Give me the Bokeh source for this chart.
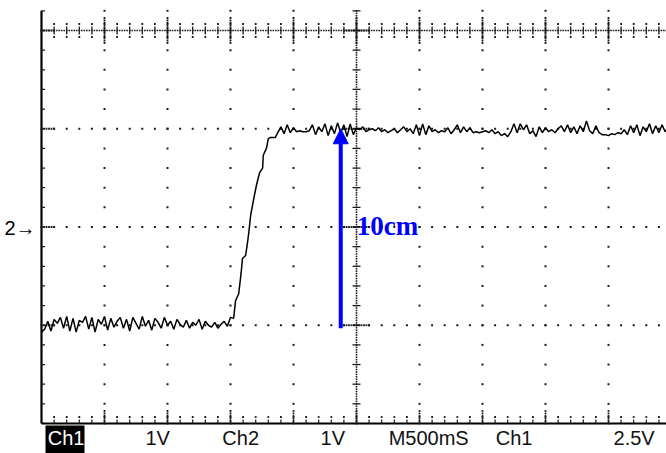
import numpy as np
from bokeh.plotting import figure
from bokeh.models import Range1d, Arrow, NormalHead
from bokeh.core.properties import value
from bokeh.embed import file_html
from bokeh.resources import INLINE

# ---------------- data (screen divisions) ----------------
sample_dt = 0.05
low_t0 = 0.0
low_vals = [0.93, 0.96, 1.04, 0.94, 1.06, 1.02, 1.08, 0.97, 1.09, 0.94,
            1.07, 0.93, 1.05, 1.03, 1.09, 0.96, 1.08, 0.93, 1.06, 1.01,
            1.09, 0.95, 1.07, 0.98, 1.04, 1.08, 0.97, 1.06, 0.94, 1.08,
            1.02, 0.96, 1.09, 0.99, 1.05, 0.95, 1.07, 1.03, 0.97, 1.08,
            1.00, 1.04, 0.96, 1.06, 1.01, 0.98, 1.05, 0.97, 1.03, 1.00,
            1.06, 0.96, 1.04, 1.00, 0.98, 1.03, 0.97, 1.01, 1.04, 0.99,
            1.08]
rise_t = [3.05, 3.08, 3.13, 3.17, 3.19, 3.24, 3.27, 3.29, 3.32, 3.37,
          3.41, 3.46, 3.51, 3.52, 3.57, 3.60, 3.63, 3.71, 3.75]
rise_vals = [1.07, 1.25, 1.32, 1.54, 1.68, 1.71, 1.84, 1.94, 2.12, 2.29,
             2.42, 2.55, 2.60, 2.73, 2.80, 2.90, 2.91, 2.91, 2.96]
high_t0 = 3.80
high_vals = [3.02, 2.95, 3.04, 2.96, 3.01, 2.97, 2.98, 2.97, 2.97, 2.98,
             3.04, 2.94, 3.02, 2.97, 3.05, 2.93, 3.03, 2.95, 3.06, 2.96,
             3.04, 2.92, 3.05, 2.94, 3.01, 2.99, 3.02, 2.97, 2.99, 3.00,
             2.98, 3.01, 2.97, 2.99, 2.96, 2.98, 3.00, 2.96, 2.99, 3.02,
             2.97, 3.00, 2.95, 3.04, 2.93, 3.05, 2.94, 3.03, 2.97, 2.99,
             2.96, 2.98, 2.97, 3.01, 2.95, 2.99, 3.04, 2.96, 3.02, 2.97,
             3.01, 2.96, 2.97, 2.96, 2.97, 2.98, 2.96, 2.99, 2.95, 2.97,
             2.93, 2.95, 2.92, 2.97, 3.05, 2.96, 3.05, 2.99, 3.04, 2.95,
             2.98, 2.92, 3.02, 2.96, 3.01, 2.97, 2.99, 2.96, 3.00, 3.03,
             2.97, 3.04, 2.96, 3.02, 2.95, 3.03, 2.97, 3.08, 2.98, 2.95,
             3.03, 2.96, 2.94, 2.94, 2.93, 2.95, 2.94, 2.96, 2.95, 2.99,
             2.94, 3.03, 2.96, 3.04, 2.93, 3.02, 2.97, 3.05, 2.95, 3.03,
             2.96, 3.04, 2.97, 3.02]
level_low = 1.0
level_high = 3.0
arrow_text = "10cm"
channel_marker = "2→"
channel_level = 2.0
status_labels = ["Ch1", "1V", "Ch2", "1V", "M500mS", "Ch1", "2.5V"]

# ---------------- layout / style ----------------
status_x = [0.10, 1.65, 2.87, 4.43, 5.51, 7.21, 9.08]
status_colors = ["white", "#111111", "#111111", "#111111", "#111111", "#111111", "#111111"]
arrow_x = 4.75
N_X, N_Y_TOP = 10, 4.2
GRID = "#1a1a1a"
PX_X, PX_Y = 1 / 63.0, 1 / 98.25   # one pixel in divisions
X0_PX, Y0_PX = 41, 423             # pixel position of the screen origin

W, H = 666, 453
p = figure(width=W, height=H, output_backend="svg", toolbar_location=None,
           x_range=Range1d(-X0_PX * PX_X, (W - X0_PX) * PX_X),
           y_range=Range1d(-(H - Y0_PX) * PX_Y, Y0_PX * PX_Y),
           min_border=0)
p.axis.visible = False
p.grid.visible = False
p.outline_line_color = None
p.background_fill_color = "white"
p.border_fill_color = "white"

def dots(xs, ys, size=2.0):
    p.scatter(x=list(xs), y=list(ys), marker="square", size=size,
              fill_color=GRID, line_color=None)

minor_x = np.round(np.arange(0.2, N_X + 1e-9, 0.2), 3)
minor_y = np.round(np.arange(0.2, N_Y_TOP + 1e-9, 0.2), 3)
major_x = [i for i in range(1, N_X)]
major_y = [1, 2, 3, 4]
center_x = 5
dense_y = 4

# vertical dotted lines
for mx in major_x:
    if mx == center_x:
        continue
    dots([mx] * len(minor_y), minor_y)
# horizontal dotted lines
for my in [1, 2, 3]:
    dots(minor_x, [my] * len(minor_x))
# dense horizontal line at y=4
dense_x = np.round(np.arange(0, N_X + 1e-9, 0.04), 3)
dots(dense_x, [dense_y] * len(dense_x), size=1.6)
p.segment(x0=list(minor_x), y0=[dense_y - 4 * PX_Y] * len(minor_x),
          x1=list(minor_x), y1=[dense_y + 4 * PX_Y] * len(minor_x),
          line_color=GRID, line_width=1.3)
dots(minor_x, [dense_y - 6.5 * PX_Y] * len(minor_x), size=1.8)
dots(minor_x, [dense_y + 6.5 * PX_Y] * len(minor_x), size=1.8)
ext = np.arange(-12.5, 12.6, 2.5) * PX_Y
for mx in major_x:
    dots([mx] * len(ext), dense_y + ext, size=1.8)
# dense center vertical
dense_yy = np.round(np.arange(0, N_Y_TOP + 1e-9, 0.025), 4)
dots([center_x] * len(dense_yy), dense_yy, size=1.6)
p.segment(x0=[center_x - 4 * PX_X] * len(minor_y), y0=list(minor_y),
          x1=[center_x + 4 * PX_X] * len(minor_y), y1=list(minor_y),
          line_color=GRID, line_width=1.3)
extx = np.arange(-12.5, 12.6, 2.5) * PX_X
for my in major_y:
    dots(center_x + extx, [my] * len(extx), size=1.8)

# left axis
p.segment(x0=[0], y0=[0], x1=[0], y1=[N_Y_TOP], line_color="black", line_width=2.2)
p.segment(x0=[0] * len(minor_y), y0=list(minor_y), x1=[3.5 * PX_X] * len(minor_y),
          y1=list(minor_y), line_color=GRID, line_width=1.2)
tick_ext = np.arange(0, 12.6, 2.5) * PX_X
for my in major_y:
    dots(tick_ext, [my] * len(tick_ext), size=1.8)
# bottom axis
p.segment(x0=[0], y0=[0], x1=[N_X], y1=[0], line_color="black", line_width=2.2)
p.segment(x0=list(minor_x), y0=[0] * len(minor_x), x1=list(minor_x),
          y1=[4 * PX_Y] * len(minor_x), line_color=GRID, line_width=1.2)
dots(minor_x, [6.5 * PX_Y] * len(minor_x), size=1.8)
tick_exty = np.arange(0, 13.1, 2.5) * PX_Y
for mx in major_x:
    dots([mx] * len(tick_exty), tick_exty, size=1.8)

# signal trace
low_t = [low_t0 + i * sample_dt for i in range(len(low_vals))]
high_t = [high_t0 + i * sample_dt for i in range(len(high_vals))]
trace_t = low_t + rise_t + high_t
trace_v = low_vals + rise_vals + high_vals
p.line(x=trace_t, y=trace_v, line_color="black", line_width=1.5)

# measurement arrow
p.add_layout(Arrow(end=NormalHead(size=15, fill_color="#0000ff", line_color="#0000ff"),
                   x_start=arrow_x, y_start=level_low - 3 * PX_Y,
                   x_end=arrow_x, y_end=level_high,
                   line_color="#0000ff", line_width=4))
p.text(x=[arrow_x + 16 * PX_X], y=[(level_low + level_high) / 2 + 1 * PX_Y], text=[arrow_text],
       text_font=value("Liberation Serif"), text_font_style="bold",
       text_font_size="27px", text_color="#0000ff",
       text_baseline="middle", text_align="left")

# channel marker
p.text(x=[-6 * PX_X], y=[channel_level - 1 * PX_Y], text=[channel_marker],
       text_font=value("Liberation Sans"), text_font_size="20px",
       text_color="black", text_baseline="middle", text_align="right")

# status bar
p.quad(left=[4 * PX_X], right=[43 * PX_X], top=[-2 * PX_Y], bottom=[-30 * PX_Y],
       fill_color="black", line_color=None)
p.text(x=status_x, y=[-14 * PX_Y] * len(status_labels), text=status_labels,
       text_font=value("Liberation Sans"), text_font_size="20px",
       text_color=status_colors, text_baseline="middle", text_align="left")

open("out.html", "w").write(file_html(p, INLINE))
